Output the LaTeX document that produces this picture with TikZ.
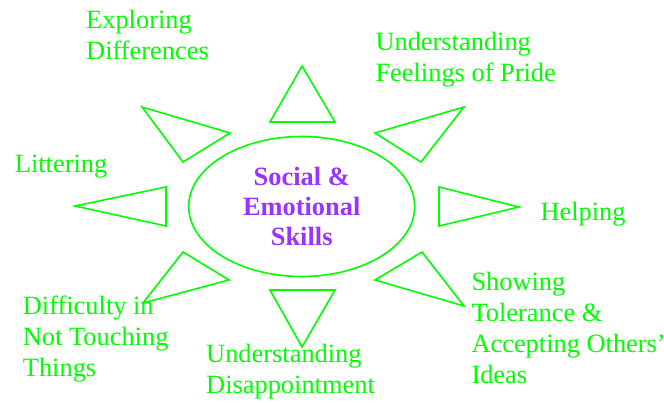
\documentclass[tikz,border=0pt]{standalone}
\usepackage{fontspec}
\setmainfont{Liberation Serif}
\usepackage{xcolor}
\usepackage{tikz}
\usetikzlibrary{shapes.geometric, positioning}

\definecolor{skillgreen}{RGB}{0,255,0}
\definecolor{skillpurple}{RGB}{153,51,255}

\begin{document}
\begin{tikzpicture}[x=1pt, y=-1pt]
        \tikzset{
            hubnode/.style={draw=skillgreen, ellipse, line width=1.6pt, minimum width=226pt, minimum height=140pt, inner sep=0pt, align=center, text=skillpurple, font=\fontsize{26.4}{29.7}\selectfont\bfseries},
            topicnode/.style={anchor=base west, inner sep=0pt, align=left, text=skillgreen, font=\fontsize{26.4}{30.8}\selectfont},
            ray/.style={draw=skillgreen, line width=1.6pt, line join=miter}
        }
        \useasboundingbox (0,0) rectangle (664,403);

        \node [hubnode] (hub) at (301.7,206.5) {Social \&\\Emotional\\Skills};

        % labels sit on the baseline of their last line
        \node [topicnode] (explore) at (86,59.3) {Exploring\\Differences};
        \node [topicnode] (pride) at (375.3,81.7) {Understanding\\Feelings of Pride};
        \node [topicnode] (litter) at (14.7,172.3) {Littering};
        \node [topicnode] (help) at (540.3,220.7) {Helping};
        \node [topicnode] (touch) at (22.7,376) {Difficulty in\\Not Touching\\Things};
        \node [topicnode] (disappoint) at (206,393.3) {Understanding\\Disappointment};
        \node [topicnode] (tolerance) at (471.3,383.3) {Showing\\Tolerance \&\\Accepting Others'\\Ideas};

        % rays round the hub
        \draw [ray] (302,66) -- (270,122) -- (335,122) -- cycle;
        \draw [ray] (142,107) -- (230,133) -- (183,162) -- cycle;
        \draw [ray] (75,206) -- (166,187) -- (166,226) -- cycle;
        \draw [ray] (183,252) -- (229,280) -- (143,303) -- cycle;
        \draw [ray] (270,290) -- (335,290) -- (302,347) -- cycle;
        \draw [ray] (375,133) -- (464,107) -- (421,162) -- cycle;
        \draw [ray] (439,187) -- (519,207) -- (439,226) -- cycle;
        \draw [ray] (375,280) -- (422,252) -- (464,306) -- cycle;
    \end{tikzpicture}
\end{document}
